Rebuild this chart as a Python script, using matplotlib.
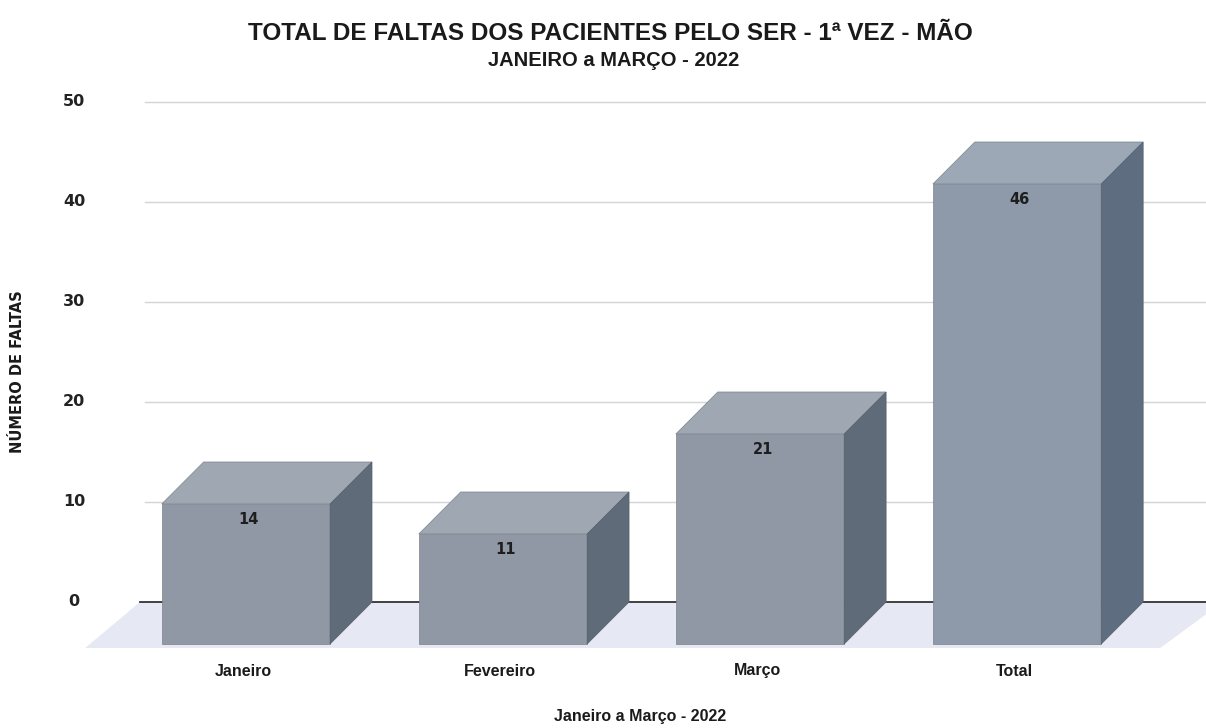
import matplotlib
matplotlib.use("Agg")
import matplotlib.pyplot as plt
from matplotlib.patches import Polygon
from matplotlib.transforms import blended_transform_factory

# data
categories = ["Janeiro", "Fevereiro", "Março", "Total"]
faltas = [14, 11, 21, 46]
yticks = [0, 10, 20, 30, 40, 50]

plt.rcParams['font.family'] = ['Liberation Sans Narrow', 'Liberation Sans', 'DejaVu Sans']

fig = plt.figure(figsize=(12.06, 7.28), dpi=100)
# axes spans px 85..1206 horizontally, y from -5.5 to 50.5
ax = fig.add_axes([85 / 1206, (728 - 657) / 728, (1206 - 85) / 1206, 560 / 728])
ax.set_xlim(-0.626, 3.735)
ax.set_ylim(-5.5, 50.5)
ax.axis('off')

W = 0.655    # front face width
DX = 0.163   # depth shift in x
DY = 4.2     # depth shift in y

# floor
floor = Polygon([(-0.412, 0), (3.8, 0), (3.8 - DX - 0.08, -DY - 0.4), (-0.412 - DX - 0.05, -DY - 0.4)],
                closed=True, facecolor='#e6e8f3', edgecolor='none', zorder=0)
ax.add_patch(floor)

# gridlines and zero line
for t in yticks[1:]:
    ax.plot([-0.393, 3.8], [t, t], color='#d4d4d8', lw=1.0, zorder=1)
ax.plot([-0.412, 3.8], [0, 0], color='#333333', lw=1.3, zorder=1)

trans = blended_transform_factory(fig.transFigure, ax.transData)
for t in yticks:
    ax.text(74 / 1206, t, str(t), transform=trans, ha='center', va='center',
            fontsize=11.5, fontweight='heavy', family=['DejaVu Sans'], color='#222222')

for i, (cat, v) in enumerate(zip(categories, faltas)):
    xl, xr = i - W / 2, i + W / 2
    front_c = '#8f98a4' if cat != 'Total' else '#8e9aa9'
    top_c = '#9ea7b2' if cat != 'Total' else '#9ca8b6'
    side_c = '#5f6b78' if cat != 'Total' else '#5e6e80'
    front = Polygon([(xl, -DY), (xr, -DY), (xr, v - DY), (xl, v - DY)],
                    facecolor=front_c, edgecolor='#7a828c', lw=0.5, zorder=3)
    top = Polygon([(xl, v - DY), (xr, v - DY), (xr + DX, v), (xl + DX, v)],
                  facecolor=top_c, edgecolor='#7a828c', lw=0.5, zorder=3)
    side = Polygon([(xr, -DY), (xr + DX, 0), (xr + DX, v), (xr, v - DY)],
                   facecolor=side_c, edgecolor='#55606c', lw=0.5, zorder=3)
    for p in (front, top, side):
        ax.add_patch(p)
    ax.text(i + 0.01, v - DY - 1.5, str(v), ha='center', va='center', fontsize=10.5,
            fontweight='heavy', family=['DejaVu Sans'], color='#1e1e1e', zorder=4)
    ax.text(i - 0.01, -6.9, cat, ha='center', va='center', fontsize=11.5,
            fontweight='bold', color='#1a1a1a', clip_on=False)

fig.text(610 / 1206, 1 - 33 / 728, "TOTAL DE FALTAS DOS PACIENTES PELO SER - 1ª VEZ - MÃO",
         ha='center', va='center', fontsize=17.5, fontweight='bold', color='#1a1a1a')
fig.text(614 / 1206, 1 - 61 / 728, "JANEIRO a MARÇO - 2022",
         ha='center', va='center', fontsize=14.5, fontweight='bold', color='#1a1a1a')
fig.text(640 / 1206, 1 - 717 / 728, "Janeiro a Março - 2022",
         ha='center', va='center', fontsize=11.5, fontweight='bold', color='#1a1a1a')
fig.text(18 / 1206, 1 - 372 / 728, "NÚMERO DE FALTAS", rotation=90,
         ha='center', va='center', fontsize=10.5, fontweight='heavy',
         family=['DejaVu Sans'], color='#1a1a1a')

fig.savefig("out.png", dpi=100, facecolor='white')
